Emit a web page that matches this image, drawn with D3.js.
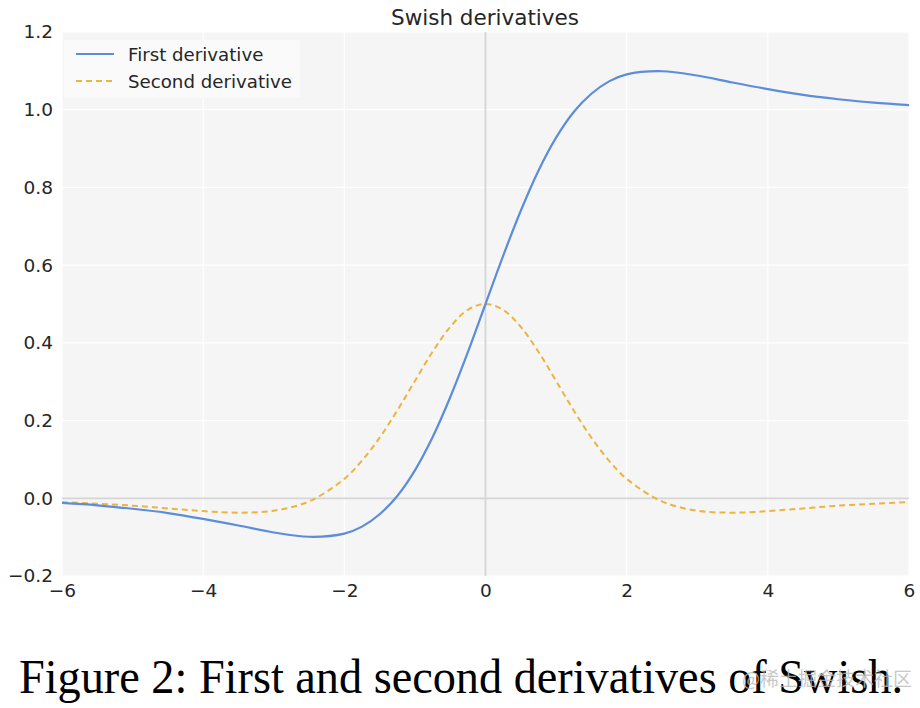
<!DOCTYPE html>
<html><head><meta charset="utf-8">
<script src="https://cdn.jsdelivr.net/npm/d3@7"></script>
<style>body{margin:0;background:#fff}svg{display:block}</style>
</head><body>
<svg id="c" width="920" height="708"></svg>
<script>
const xValues = [-6,-5.5,-5,-4.5,-4,-3.5,-3,-2.5,-2,-1.75,-1.5,-1.25,-1,-0.75,-0.5,-0.25,0,0.25,0.5,0.75,1,1.25,1.5,1.75,2,2.5,3,3.5,4,4.5,5,5.5,6];
const firstDerivative = [-0.012,-0.018,-0.027,-0.038,-0.053,-0.070,-0.088,-0.099,-0.091,-0.073,-0.041,0.006,0.072,0.157,0.260,0.376,0.500,0.624,0.740,0.843,0.928,0.994,1.041,1.073,1.091,1.099,1.088,1.070,1.053,1.038,1.027,1.018,1.012];
const secondDerivative = [-0.010,-0.014,-0.019,-0.026,-0.033,-0.037,-0.032,-0.008,0.050,0.097,0.156,0.226,0.302,0.377,0.441,0.485,0.500,0.485,0.441,0.377,0.302,0.226,0.156,0.097,0.050,-0.008,-0.032,-0.037,-0.033,-0.026,-0.019,-0.014,-0.010];
const xTicks = [-6,-4,-2,0,2,4,6];
const yTicks = [-0.2,0.0,0.2,0.4,0.6,0.8,1.0,1.2];
const seriesNames = ["First derivative","Second derivative"];
const titleText = "Swish derivatives";
const captionText = "Figure 2: First and second derivatives of Swish.";

const svg = d3.select("#c");
const L=62,R=909,T=32,B=576;
const x = d3.scaleLinear().domain([-6,6]).range([L,R]);
const y = d3.scaleLinear().domain([-0.2,1.2]).range([B,T]);
const font = "'DejaVu Sans', sans-serif";

svg.append("rect").attr("x",L).attr("y",T).attr("width",R-L).attr("height",B-T).attr("fill","#f5f5f5");
// grid
svg.append("g").selectAll("line").data(xTicks.filter(d=>d!==0)).join("line")
  .attr("x1",d=>x(d)).attr("x2",d=>x(d)).attr("y1",T).attr("y2",B)
  .attr("stroke","#ffffff").attr("stroke-width",1.2);
svg.append("g").selectAll("line").data(yTicks.filter(d=>Math.abs(d)>1e-9)).join("line")
  .attr("x1",L).attr("x2",R).attr("y1",d=>y(d)).attr("y2",d=>y(d))
  .attr("stroke","#ffffff").attr("stroke-width",1.2);
// zero lines
svg.append("line").attr("x1",x(0)).attr("x2",x(0)).attr("y1",T).attr("y2",B).attr("stroke","#d6d6d6").attr("stroke-width",1.8);
svg.append("line").attr("x1",L).attr("x2",R).attr("y1",y(0)).attr("y2",y(0)).attr("stroke","#d6d6d6").attr("stroke-width",1.8);

// axes
const fmtY = d=> (d<0?"\u2212":"") + Math.abs(d).toFixed(1);
const fmtX = d=> (d<0?"\u2212":"") + Math.abs(d);
const xa = svg.append("g").attr("transform",`translate(0,${B})`)
  .call(d3.axisBottom(x).tickValues(xTicks).tickFormat(fmtX).tickSize(0).tickPadding(8));
const ya = svg.append("g").attr("transform",`translate(${L},0)`)
  .call(d3.axisLeft(y).tickValues(yTicks).tickFormat(fmtY).tickSize(0).tickPadding(9));
[xa,ya].forEach(a=>{a.select(".domain").remove();a.selectAll("text").attr("font-family",font).attr("font-size",18.5).attr("fill","#262626");});

// lines
const pts = arr => xValues.map((v,i)=>[v,arr[i]]);
const line = d3.line().x(d=>x(d[0])).y(d=>y(d[1])).curve(d3.curveCatmullRom.alpha(0.5));
svg.append("path").attr("d",line(pts(secondDerivative))).attr("fill","none").attr("stroke","#ebb43f").attr("stroke-width",2).attr("stroke-dasharray","6,4");
svg.append("path").attr("d",line(pts(firstDerivative))).attr("fill","none").attr("stroke","#5b8ddb").attr("stroke-width",2.2);

// legend
const lg = svg.append("g");
lg.append("rect").attr("x",64).attr("y",40).attr("width",236).attr("height",58).attr("fill","#fafafa").attr("rx",2);
const colors=["#5b8ddb","#ebb43f"], dashes=[null,"6,4"];
seriesNames.forEach((n,i)=>{
  const yy = 54+i*27;
  lg.append("line").attr("x1",76).attr("x2",114).attr("y1",yy).attr("y2",yy).attr("stroke",colors[i]).attr("stroke-width",2).attr("stroke-dasharray",dashes[i]);
  lg.append("text").attr("x",128).attr("y",yy+6.5).text(n).attr("font-family",font).attr("font-size",18.2).attr("fill","#262626");
});

// title
svg.append("text").attr("x",485).attr("y",25).attr("text-anchor","middle").text(titleText)
  .attr("font-family",font).attr("font-size",21.5).attr("fill","#262626");
// caption
svg.append("text").attr("x",19).attr("y",693).text(captionText)
  .attr("font-family","'Liberation Serif','Times New Roman',serif").attr("font-size",48.5)
  .attr("textLength",884).attr("lengthAdjust","spacingAndGlyphs").attr("fill","#000");
// watermark
svg.append("text").attr("x",742).attr("y",686).text("@稀土掘金技术社区")
  .attr("font-family","'Noto Sans CJK SC',sans-serif").attr("font-size",19).attr("fill","#bbbbbb").attr("opacity",0.8);
</script>
</body></html>
